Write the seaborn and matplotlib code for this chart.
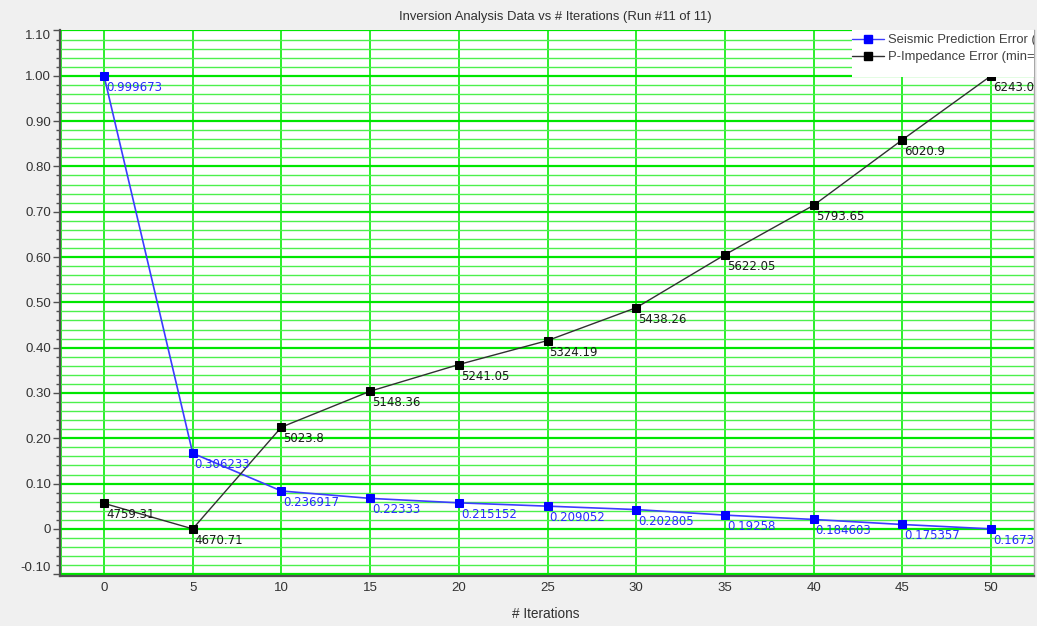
import numpy as np
import pandas as pd
import matplotlib
matplotlib.use("Agg")
import matplotlib.pyplot as plt
from matplotlib.lines import Line2D
from matplotlib.patches import Rectangle
from matplotlib.ticker import FixedLocator
import seaborn as sns

# ---------------- data ----------------
iterations = [0, 5, 10, 15, 20, 25, 30, 35, 40, 45, 50]
seismic_error = [0.999673, 0.306233, 0.236917, 0.22333, 0.215152, 0.209052,
                 0.202805, 0.19258, 0.184603, 0.175357, 0.16731]
impedance_error = [4759.31, 4670.71, 5023.8, 5148.36, 5241.05, 5324.19,
                   5438.26, 5622.05, 5793.65, 6020.9, 6243.05]
seismic_label = "Seismic Prediction Error (min=0.16731, max=0.999673)"
impedance_label = "P-Impedance Error (min=4670.71, max=6243.05)"
title = "Inversion Analysis Data vs # Iterations (Run #11 of 11)"
xlabel = "# Iterations"
ytick_values = [1.10, 1.00, 0.90, 0.80, 0.70, 0.60, 0.50, 0.40, 0.30, 0.20, 0.10, 0.0, -0.10]
ytick_labels = ["1.10", "1.00", "0.90", "0.80", "0.70", "0.60", "0.50", "0.40",
                "0.30", "0.20", "0.10", "0", "-0.10"]
xtick_values = [0, 5, 10, 15, 20, 25, 30, 35, 40, 45, 50]


def normalize(v):
    v = np.asarray(v, dtype=float)
    return (v - v.min()) / (v.max() - v.min())


df = pd.DataFrame({
    "iter": iterations,
    "seis": normalize(seismic_error),
    "imp": normalize(impedance_error),
})

sns.set_theme(style="white")
plt.rcParams["font.family"] = ["Liberation Sans", "DejaVu Sans"]

W, H = 1037, 626
fig = plt.figure(figsize=(W / 100, H / 100), dpi=100, facecolor="#f0f0f0")
ax = fig.add_axes([60 / W, 1 - 576 / H, (1034 - 60) / W, (576 - 30) / H])
ax.set_facecolor("white")

BLUE = "#2a2aff"
BLK = "#1a1a1a"

sns.lineplot(data=df, x="iter", y="seis", ax=ax, color="#3c3cff", linewidth=1.2,
             marker="s", markersize=5.5, markerfacecolor="#0000ff",
             markeredgecolor="#0000ff", zorder=4)
sns.lineplot(data=df, x="iter", y="imp", ax=ax, color="#303030", linewidth=1.0,
             marker="s", markersize=5.5, markerfacecolor="black",
             markeredgecolor="black", zorder=4)

# value labels
for x, y, v in zip(df["iter"], df["seis"], seismic_error):
    ax.annotate(f"{v:g}", (x, y), xytext=(2, -5), textcoords="offset pixels",
                ha="left", va="top", fontsize=8.5, color=BLUE,
                family="DejaVu Sans", clip_on=True, zorder=5)
for x, y, v in zip(df["iter"], df["imp"], impedance_error):
    ax.annotate(f"{v:g}", (x, y), xytext=(2, -5), textcoords="offset pixels",
                ha="left", va="top", fontsize=8.5, color=BLK,
                family="DejaVu Sans", clip_on=True, zorder=5)

# axes limits
ax.set_xlim(-2.48, 52.42)
ax.set_ylim(-0.104, 1.101)

# grid
ax.set_axisbelow(True)
ax.yaxis.set_major_locator(FixedLocator(ytick_values))
ax.set_yticklabels(ytick_labels)
ax.yaxis.set_minor_locator(FixedLocator(np.round(np.arange(-0.10, 1.1001, 0.02), 3)))
ax.xaxis.set_major_locator(FixedLocator(xtick_values))
ax.set_xticklabels([str(v) for v in xtick_values])
ax.grid(which="minor", axis="y", color="#4cf04c", linewidth=1.0)
ax.grid(which="major", axis="y", color="#00e600", linewidth=1.6)
ax.grid(which="major", axis="x", color="#1aee1a", linewidth=1.3)
ax.axvline(ax.get_xlim()[0] + 0.05, color="#1aee1a", linewidth=1.3, zorder=0.5)

# ticks
ax.tick_params(axis="y", which="major", length=5, width=1, color="#505050",
               labelsize=9.5, labelcolor="#333333", pad=1.5, left=True)
ax.tick_params(axis="y", which="minor", length=3, width=1, color="#505050", left=True)
ax.tick_params(axis="x", which="both", length=0, labelsize=9.5,
               labelcolor="#333333", pad=4)
labels = ax.get_yticklabels()
labels[0].set_va("top")
labels[-1].set_va("bottom")

# spines
for s in ["left", "bottom"]:
    ax.spines[s].set_color("#505050")
    ax.spines[s].set_linewidth(1.6)
ax.spines["right"].set_color("#a8a8a8")
ax.spines["right"].set_linewidth(1.0)
ax.spines["top"].set_visible(False)

ax.set_xlabel("")
ax.set_ylabel("")

# legend (white box clipped at right edge)
x0 = (852 - 60) / (1034 - 60)
y0 = (576 - 76.5) / (576 - 30)
ax.add_patch(Rectangle((x0, y0), 1 - x0, 1.0 - y0, transform=ax.transAxes,
                       facecolor="white", edgecolor="none", zorder=6, clip_on=True))
handles = [
    Line2D([], [], color="#3c3cff", linewidth=1.0, marker="s", markersize=6,
           markerfacecolor="#0000ff", markeredgecolor="#0000ff"),
    Line2D([], [], color="#303030", linewidth=1.0, marker="s", markersize=6,
           markerfacecolor="black", markeredgecolor="black"),
]
leg = ax.legend(handles, [seismic_label, impedance_label], loc="upper left",
                bbox_to_anchor=(x0 + 0.0005, (576 - 34) / (576 - 30)), frameon=False,
                borderpad=0, borderaxespad=0, fontsize=9.4, handlelength=2.4,
                handletextpad=0.3, labelspacing=0.38)
leg.set_zorder(7)
for t in leg.get_texts():
    t.set_color("#404040")
    t.set_clip_box(ax.bbox)
    t.set_clip_on(True)

fig.text(555 / W, 1 - 17 / H, title, ha="center", va="center", fontsize=9.4,
         color="#303030")
fig.text(546 / W, 1 - 614 / H, xlabel, ha="center", va="center", fontsize=9.8,
         color="#303030")

fig.savefig("out.png", dpi=100, facecolor=fig.get_facecolor())
